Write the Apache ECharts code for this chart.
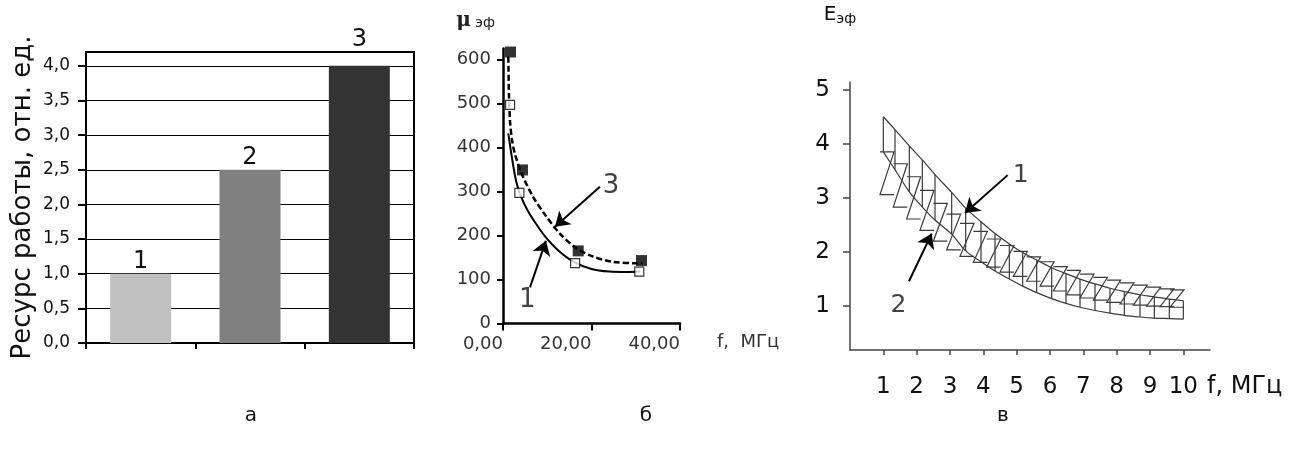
<!DOCTYPE html>
<html><head><meta charset="utf-8">
<script src="https://cdn.jsdelivr.net/npm/echarts@6/dist/echarts.min.js"></script>
<style>html,body{margin:0;padding:0;background:#fff}#c{width:1295px;height:455px}</style>
</head><body><div id="c"></div>
<script>
// ---------- Panel а: bar chart ----------
const barCategories = ['1', '2', '3'];
const barValues = [1.0, 2.5, 4.0];
const barYTicks = [0, 0.5, 1, 1.5, 2, 2.5, 3, 3.5, 4];

// ---------- Panel б: μэф(f) ----------
const muCurve1 = [[1.2,432],[2.0,378],[3.0,322],[4.0,290],[5.5,258],[7.5,226],[9.5,198],[12.5,166],[16.0,140],[20,124],[24,118],[28,117],[31,118]];
const muCurve3 = [[1.2,606],[1.35,520],[1.6,458],[2.0,420],[2.7,385],[4.2,341],[6.8,288],[9.8,243],[12.8,205],[16.6,171],[20.4,152],[24.9,140],[30.2,137],[31.5,137]];
const muPoints1 = [[1.6,497],[3.7,297],[16.3,137],[30.8,118]];
const muPoints3 = [[1.7,617],[4.4,349],[17.0,165],[31.3,143]];
const muXTicks = [0, 20, 40];
const muYTicks = [0, 100, 200, 300, 400, 500, 600];
const muLabels = [{name:'3', value:[24.4,312]}, {name:'1', value:[5.5,53]}];
const muArrows = [[[21.9,311],[11.75,220]], [[6.1,82],[9.7,188]]];

// ---------- Panel в: Eэф(f) ----------
const eRib1X     = [1.0,1.35,1.78,2.17,2.55,3.05,3.47,3.93,4.35,4.78,5.18,5.6,6.05,6.48,6.9,7.35,7.8,8.23,8.7,9.13,9.58,10.0];
const eRib1Upper = [4.50,4.26,3.96,3.70,3.43,3.10,2.81,2.56,2.34,2.15,1.99,1.85,1.71,1.60,1.50,1.41,1.33,1.27,1.21,1.17,1.13,1.10];
const eRib1Lower = [3.85,3.52,3.11,2.83,2.59,2.33,2.02,1.82,1.65,1.50,1.37,1.25,1.14,1.05,0.98,0.92,0.87,0.83,0.80,0.78,0.77,0.76];
const eRib2X      = [0.9,1.3,1.7,2.1,2.5,2.9,3.3,3.7,4.1,4.5,4.9,5.3,5.7,6.1,6.5,6.9,7.3,7.7,8.1,8.5,8.9,9.3,9.6];
const eRib2Top    = [3.85,3.63,3.39,3.14,2.90,2.70,2.53,2.38,2.24,2.12,2.01,1.91,1.82,1.73,1.66,1.59,1.53,1.48,1.43,1.39,1.35,1.32,1.30];
const eRib2Bottom = [3.06,2.83,2.61,2.40,2.20,2.04,1.92,1.81,1.72,1.63,1.55,1.46,1.37,1.28,1.21,1.15,1.11,1.07,1.04,1.02,1.00,0.99,0.98];
const eXTicks = [1,2,3,4,5,6,7,8,9,10];
const eYTicks = [1,2,3,4,5];
const eLabels = [{name:'1', value:[5.12,3.41]}, {name:'2', value:[1.45,1.01]}];
const eArrows = [[[4.73,3.42],[3.45,2.72]], [[1.77,1.46],[2.45,2.34]]];

const panelLetters = ['а', 'б', 'в'];

// ---------- styles ----------
const FONT = 'DejaVu Sans';
const barColors = ['#c0c0c0', '#808080', '#333333'];
const zWidth = 0.42;
const ink = '#3a3a3a';

function comma(d) { return v => Number(v).toFixed(d).replace('.', ','); }
function markArrows(list, w) {
  return {
    silent: true, symbol: ['none', 'arrow'], symbolSize: 14,
    label: {show: false},
    lineStyle: {color: '#000', width: w, type: 'solid'},
    data: list.map(a => [{coord: a[0]}, {coord: a[1]}])
  };
}
function textSeries(xi, yi, data, size) {
  return {
    type: 'scatter', xAxisIndex: xi, yAxisIndex: yi, data: data,
    symbol: 'circle', symbolSize: 1, itemStyle: {color: 'rgba(0,0,0,0)'},
    label: {show: true, position: 'inside', formatter: '{b}', fontFamily: FONT, fontSize: size, color: '#111'},
    silent: true, z: 10
  };
}

const chart = echarts.init(document.getElementById('c'));
const option = {
  animation: false,
  backgroundColor: '#fff',
  graphic: panelLetters.map((t, i) => ({
    type: 'text', x: [251, 646, 1003][i], y: 416,
    style: {text: t, align: 'center', verticalAlign: 'middle', fontFamily: FONT, fontSize: 20, fill: '#111'}
  })),
  grid: [
    {left: 86, top: 52, width: 328, height: 291, show: true, borderColor: '#000', borderWidth: 2, outerBoundsMode: 'none', containLabel: false},
    {left: 503, top: 48.5, width: 177, height: 275, outerBoundsMode: 'none', containLabel: false},
    {left: 850, top: 82, width: 360, height: 268, outerBoundsMode: 'none', containLabel: false}
  ],
  xAxis: [
    {gridIndex: 0, type: 'category', data: barCategories,
     axisLine: {lineStyle: {color: '#000', width: 2}},
     axisTick: {show: true, length: 6, lineStyle: {color: '#000', width: 2}},
     axisLabel: {show: false}, splitLine: {show: false}},
    {gridIndex: 1, type: 'value', min: 0, max: 40, interval: 20,
     axisLine: {show: true, onZero: false, lineStyle: {color: '#000', width: 2.5}},
     axisTick: {show: true, length: 7, customValues: muXTicks, lineStyle: {color: '#000', width: 2}},
     axisLabel: {customValues: muXTicks, formatter: comma(2), fontFamily: FONT, fontSize: 18, color: '#333', align: 'right', margin: 12},
     splitLine: {show: false},
     name: 'f,  МГц', nameLocation: 'end', nameGap: 37,
     nameTextStyle: {fontFamily: FONT, fontSize: 18, color: '#333', verticalAlign: 'top', padding: [10, 0, 0, 0]}},
    {gridIndex: 2, type: 'value', min: 0, max: 10.8,
     axisLine: {show: true, onZero: false, lineStyle: {color: '#444', width: 1.5}},
     axisTick: {show: true, length: 5, customValues: eXTicks, lineStyle: {color: '#444', width: 1.5}},
     axisLabel: {customValues: eXTicks, fontFamily: FONT, fontSize: 23, color: '#111', margin: 26},
     splitLine: {show: false},
     name: 'f, МГц', nameLocation: 'end', nameGap: -3,
     nameTextStyle: {fontFamily: FONT, fontSize: 24, color: '#111', verticalAlign: 'top', padding: [25, 0, 0, 0]}}
  ],
  yAxis: [
    {gridIndex: 0, type: 'value', min: 0, max: 4.2, interval: 0.5,
     axisLine: {show: true, lineStyle: {color: '#000', width: 2}},
     axisTick: {show: true, length: 8, customValues: barYTicks, lineStyle: {color: '#000', width: 2}},
     axisLabel: {customValues: barYTicks, formatter: comma(1), fontFamily: FONT, fontSize: 17, color: '#111', margin: 16},
     splitLine: {show: true, lineStyle: {color: '#000', width: 1}},
     name: 'Ресурс работы, отн. ед.', nameLocation: 'middle', nameRotate: 90, nameGap: 50,
     nameTextStyle: {fontFamily: FONT, fontSize: 26, color: '#111'}},
    {gridIndex: 1, type: 'value', min: 0, max: 625, interval: 100,
     axisLine: {show: true, onZero: false, lineStyle: {color: '#000', width: 2.5}},
     axisTick: {show: true, length: 6, customValues: muYTicks, lineStyle: {color: '#000', width: 2}},
     axisLabel: {customValues: muYTicks, fontFamily: FONT, fontSize: 18, color: '#333', margin: 12},
     splitLine: {show: false},
     name: '{mu|μ}{sub| эф}', nameLocation: 'end', nameGap: 18,
     nameTextStyle: {align: 'center', padding: [0, 55, 0, 0],
       rich: {mu: {fontFamily: 'DejaVu Serif', fontWeight: 'bold', fontSize: 20, color: '#222'},
              sub: {fontFamily: FONT, fontSize: 14, color: '#222', padding: [6, 0, 0, 0]}}}},
    {gridIndex: 2, type: 'value', min: 0.19, max: 5.14,
     axisLine: {show: true, onZero: false, lineStyle: {color: '#444', width: 1.5}},
     axisTick: {show: true, length: 7, customValues: eYTicks, lineStyle: {color: '#444', width: 1.5}},
     axisLabel: {customValues: eYTicks, fontFamily: FONT, fontSize: 23, color: '#111', margin: 20},
     splitLine: {show: false},
     name: '{e|E}{sub|эф}', nameLocation: 'end', nameGap: 56,
     nameTextStyle: {align: 'center', padding: [0, 20, 0, 0],
       rich: {e: {fontFamily: FONT, fontSize: 20, color: '#111'},
              sub: {fontFamily: FONT, fontSize: 14, color: '#111', padding: [8, 0, 0, 0]}}}}
  ],
  series: [
    // а
    {type: 'bar', xAxisIndex: 0, yAxisIndex: 0, barWidth: 61,
     data: barValues.map((v, i) => ({value: v, itemStyle: {color: barColors[i]},
       label: i === barValues.length - 1 ? {offset: [0, -14]} : undefined})),
     label: {show: true, position: 'top', distance: 0, formatter: p => barCategories[p.dataIndex],
             fontFamily: FONT, fontSize: 24, color: '#111'}},
    // б
    {type: 'line', xAxisIndex: 1, yAxisIndex: 1, data: muCurve1, smooth: 0.3,
     showSymbol: false, symbol: 'none', lineStyle: {color: '#000', width: 2}, markLine: markArrows(muArrows, 2), z: 3},
    {type: 'line', xAxisIndex: 1, yAxisIndex: 1, data: muCurve3, smooth: 0.3,
     showSymbol: false, symbol: 'none', lineStyle: {color: '#000', width: 2.5, type: [6, 3]}, z: 3},
    {type: 'scatter', xAxisIndex: 1, yAxisIndex: 1, data: muPoints1, symbol: 'rect', symbolSize: 9,
     itemStyle: {color: '#fff', borderColor: '#000', borderWidth: 1.2}, z: 5},
    {type: 'scatter', xAxisIndex: 1, yAxisIndex: 1, data: muPoints3, symbol: 'rect', symbolSize: 11,
     itemStyle: {color: '#000'}, z: 5},
    textSeries(1, 1, muLabels, 26),
    // в ribbon 1 (vertical rungs)
    {type: 'custom', xAxisIndex: 2, yAxisIndex: 2,
     data: eRib1X.map((x, i) => [x, eRib1Upper[i], eRib1Lower[i]]),
     encode: {x: 0, y: [1, 2]},
     renderItem: (params, api) => {
       const a = api.coord([api.value(0), api.value(1)]);
       const b = api.coord([api.value(0), api.value(2)]);
       return {type: 'line', shape: {x1: a[0], y1: a[1], x2: b[0], y2: b[1]},
               style: {stroke: ink, lineWidth: 1.2}};
     }, z: 2},
    {type: 'line', xAxisIndex: 2, yAxisIndex: 2, data: eRib1X.map((x, i) => [x, eRib1Upper[i]]),
     smooth: 0.3, showSymbol: false, symbol: 'none', lineStyle: {color: ink, width: 1.2}, markLine: markArrows(eArrows, 2), z: 3},
    {type: 'line', xAxisIndex: 2, yAxisIndex: 2, data: eRib1X.map((x, i) => [x, eRib1Lower[i]]),
     smooth: 0.3, showSymbol: false, symbol: 'none', lineStyle: {color: ink, width: 1.2}, z: 3},
    // в ribbon 2 (Z hatching)
    {type: 'custom', xAxisIndex: 2, yAxisIndex: 2,
     data: eRib2X.map((x, i) => [x, eRib2Top[i], eRib2Bottom[i]]),
     encode: {x: 0, y: [1, 2]},
     renderItem: (params, api) => {
       const x = api.value(0), t = api.value(1), b = api.value(2);
       const p1 = api.coord([x, t]), p2 = api.coord([x + zWidth, t]);
       const p3 = api.coord([x, b]), p4 = api.coord([x + zWidth, b]);
       return {type: 'polyline', shape: {points: [p1, p2, p3, p4]},
               style: {stroke: ink, lineWidth: 1.2, fill: null}};
     }, z: 2},
    textSeries(2, 2, eLabels, 25)
  ]
};
chart.setOption(option);
</script></body></html>
